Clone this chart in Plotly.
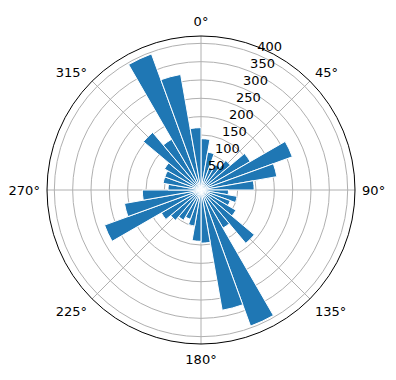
import plotly.graph_objects as go

theta_centers = [5, 15, 25, 35, 45, 55, 65, 75, 85, 95, 105, 115, 125, 135, 145, 155, 165, 175,
                 185, 195, 205, 215, 225, 235, 245, 255, 265, 275, 285, 295, 305, 315, 325, 335, 345, 355]
radii = [140, 105, 65, 80, 105, 155, 265, 210, 145, 75, 100, 85, 110, 190, 120, 395, 333, 145,
         140, 100, 85, 95, 108, 125, 280, 212, 160, 90, 105, 105, 115, 205, 160, 395, 320, 170]
bar_width_deg = 10
angle_ticks = [0, 45, 90, 135, 180, 225, 270, 315]
angle_labels = ["0°", "45°", "90°", "135°", "180°", "225°", "270°", "315°"]
r_ticks = [50, 100, 150, 200, 250, 300, 350, 400]
r_label_angle = 22.5
r_max = 420

fig = go.Figure()
fig.add_trace(go.Barpolar(
    theta=theta_centers,
    r=radii,
    width=[bar_width_deg] * len(radii),
    marker=dict(color="#1f77b4", line=dict(color="white", width=1)),
    opacity=1,
))
# radial tick labels, placed like matplotlib (left/bottom aligned at the tick point)
fig.add_trace(go.Scatterpolar(
    theta=[r_label_angle] * len(r_ticks),
    r=r_ticks,
    mode="text",
    text=[str(v) for v in r_ticks],
    textposition="top right",
    textfont=dict(family="DejaVu Sans", size=13, color="black"),
    cliponaxis=False,
    hoverinfo="skip",
))

fig.update_layout(
    width=396, height=380,
    margin=dict(l=47, r=41, t=36, b=36),
    paper_bgcolor="white",
    showlegend=False,
    font=dict(family="DejaVu Sans", size=13, color="black"),
    polar=dict(
        bgcolor="white",
        bargap=0,
        angularaxis=dict(
            rotation=90, direction="clockwise",
            tickmode="array", tickvals=angle_ticks, ticktext=angle_labels,
            showline=True, linecolor="black", linewidth=1,
            showgrid=True, gridcolor="#b0b0b0", gridwidth=0.8,
            ticks="outside", ticklen=4, tickcolor="rgba(0,0,0,0)",
            layer="above traces",
        ),
        radialaxis=dict(
            range=[0, r_max],
            tickmode="array", tickvals=r_ticks, showticklabels=False,
            showline=False, showgrid=True, gridcolor="#b0b0b0", gridwidth=0.8,
            ticks="", layer="above traces",
        ),
    ),
)

fig.write_html("out.html")
